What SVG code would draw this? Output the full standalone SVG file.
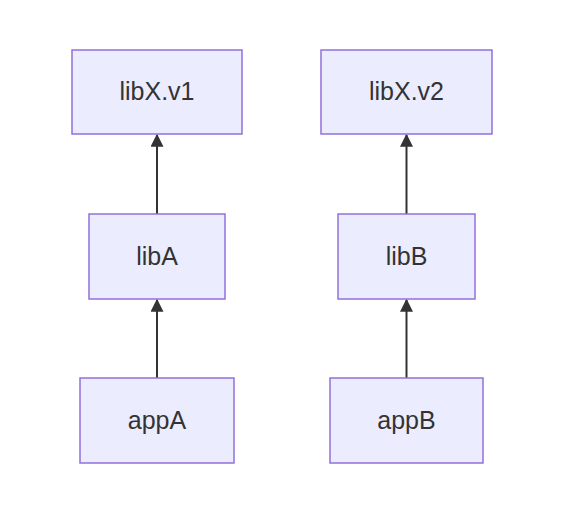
<svg xmlns="http://www.w3.org/2000/svg" width="581" height="507" viewBox="0 0 581 507">
<defs>
<style>
.node rect{fill:#ECECFF;stroke:#9370DB;stroke-width:1.5}
.node text{font-family:"Liberation Sans",Arial,sans-serif;font-size:25px;fill:#333;text-anchor:middle;dominant-baseline:central}
.edge{stroke:#333;stroke-width:2;fill:none}
</style>
<marker id="arrow" viewBox="0 0 10 10" refX="9" refY="5" markerWidth="6.5" markerHeight="6.5" orient="auto" markerUnits="strokeWidth">
<path d="M0,0 L10,5 L0,10 z" fill="#333"/>
</marker>
</defs>
<rect width="581" height="507" fill="#fff"/>
<g id="connectors">
<line class="edge" x1="157" y1="378" x2="157" y2="300" marker-end="url(#arrow)"/>
<line class="edge" x1="157" y1="214" x2="157" y2="135" marker-end="url(#arrow)"/>
<line class="edge" x1="406.5" y1="378" x2="406.5" y2="300" marker-end="url(#arrow)"/>
<line class="edge" x1="406.5" y1="214" x2="406.5" y2="135" marker-end="url(#arrow)"/>
</g>
<g id="libXv1" class="node"><rect x="72" y="50" width="170" height="84"/><text x="157" y="91">libX.v1</text></g>
<g id="libXv2" class="node"><rect x="321" y="50" width="171" height="84"/><text x="406.5" y="91">libX.v2</text></g>
<g id="libA" class="node"><rect x="89" y="214" width="136" height="85"/><text x="157" y="255.5">libA</text></g>
<g id="libB" class="node"><rect x="338" y="214" width="137" height="85"/><text x="406.5" y="255.5">libB</text></g>
<g id="appA" class="node"><rect x="80" y="378" width="154" height="85"/><text x="157" y="419.5">appA</text></g>
<g id="appB" class="node"><rect x="330" y="378" width="153" height="85"/><text x="406.5" y="419.5">appB</text></g>
</svg>
